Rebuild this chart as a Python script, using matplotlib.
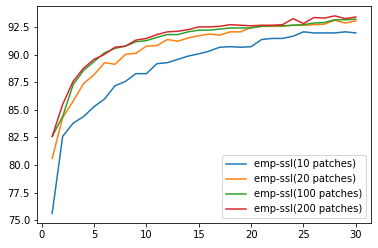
import matplotlib
matplotlib.use("Agg")
import matplotlib.pyplot as plt

epochs = list(range(1, 31))

acc_10 = [75.6, 82.6, 83.8, 84.4, 85.3, 86.0, 87.2, 87.6, 88.3, 88.3,
          89.2, 89.3, 89.6, 89.9, 90.1, 90.35, 90.7, 90.75, 90.7, 90.75,
          91.4, 91.5, 91.5, 91.7, 92.1, 92.0, 92.0, 92.0, 92.1, 92.0]
acc_20 = [80.6, 84.3, 85.8, 87.4, 88.2, 89.3, 89.15, 90.05, 90.15, 90.8,
          90.85, 91.4, 91.25, 91.55, 91.75, 91.9, 91.8, 92.1, 92.1, 92.5,
          92.6, 92.6, 92.6, 92.7, 92.7, 92.75, 92.8, 93.15, 92.9, 93.1]
acc_100 = [82.6, 84.4, 87.3, 88.6, 89.4, 90.2, 90.6, 90.8, 91.2, 91.3,
           91.6, 91.85, 91.85, 92.1, 92.25, 92.25, 92.35, 92.45, 92.45, 92.45,
           92.6, 92.65, 92.65, 92.7, 92.75, 92.9, 92.95, 93.2, 93.2, 93.25]
acc_200 = [82.6, 85.5, 87.6, 88.8, 89.6, 90.05, 90.7, 90.8, 91.35, 91.5,
           91.85, 92.1, 92.15, 92.3, 92.55, 92.55, 92.6, 92.75, 92.7, 92.65,
           92.7, 92.7, 92.75, 93.3, 92.85, 93.4, 93.35, 93.55, 93.3, 93.45]

labels = ["emp-ssl(10 patches)", "emp-ssl(20 patches)",
          "emp-ssl(100 patches)", "emp-ssl(200 patches)"]

fig = plt.figure(figsize=(378 / 72, 248 / 72), dpi=72)
ax = fig.add_axes([37 / 378, 1 - 223.3 / 248, 334 / 378, 217.3 / 248])

for ys, lab in zip([acc_10, acc_20, acc_100, acc_200], labels):
    ax.plot(epochs, ys, label=lab)

ax.legend(loc="lower right")
fig.savefig("out.png", dpi=72)
